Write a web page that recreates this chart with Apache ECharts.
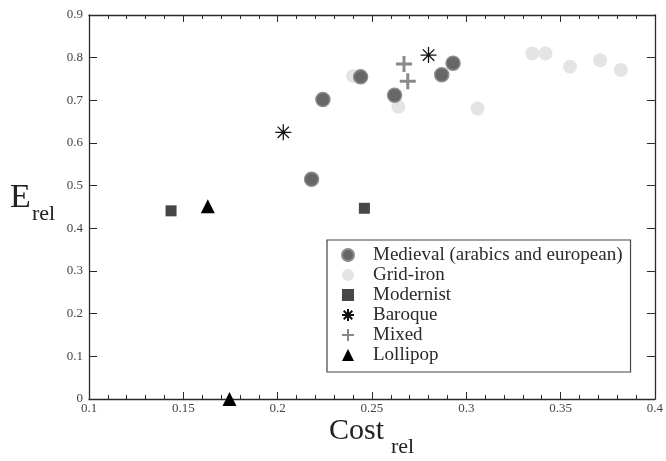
<!DOCTYPE html>
<html>
<head>
<meta charset="utf-8">
<script src="https://cdn.jsdelivr.net/npm/echarts@6/dist/echarts.min.js"></script>
<style>html,body{margin:0;padding:0;background:#fff;}#c{width:666px;height:461px;}</style>
</head>
<body>
<div id="c"></div>
<script>
// Data: [Cost_rel, E_rel]
var seriesNames = ['Medieval (arabics and european)', 'Grid-iron', 'Modernist', 'Baroque', 'Mixed', 'Lollipop'];
var medieval = [[0.224, 0.702], [0.244, 0.755], [0.262, 0.712], [0.287, 0.760], [0.293, 0.787], [0.218, 0.515]];
var gridIron = [[0.240, 0.757], [0.264, 0.685], [0.306, 0.681], [0.335, 0.810], [0.342, 0.810], [0.355, 0.779], [0.371, 0.794], [0.382, 0.771]];
var modernist = [[0.1435, 0.441], [0.246, 0.447]];
var baroque = [[0.203, 0.625], [0.280, 0.806]];
var mixed = [[0.267, 0.785], [0.269, 0.745]];
var lollipop = [[0.163, 0.452], [0.1745, 0.0]];
var xTicks = [0.1, 0.15, 0.2, 0.25, 0.3, 0.35, 0.4];
var yTicks = [0, 0.1, 0.2, 0.3, 0.4, 0.5, 0.6, 0.7, 0.8, 0.9];

var serif = '"Liberation Serif", "DejaVu Serif", serif';
var axisCol = '#2a2a2a';
var asterisk = 'path://M0,-8L0,8M-8,0L8,0M-5.7,-5.7L5.7,5.7M-5.7,5.7L5.7,-5.7';
var plus = 'path://M0,-8L0,8M-8,0L8,0';

var chart = echarts.init(document.getElementById('c'), null, {renderer: 'canvas'});

function baseAxis(extra) {
  var a = {
    axisLine: {show: true, onZero: false, lineStyle: {color: axisCol, width: 1.3}},
    axisTick: {show: true, inside: true, length: 7, lineStyle: {color: axisCol, width: 1}},
    splitLine: {show: false},
    axisLabel: {show: false}
  };
  for (var k in extra) a[k] = extra[k];
  return a;
}

var xMin = xTicks[0], xMax = xTicks[xTicks.length - 1];
var yMin = yTicks[0], yMax = yTicks[yTicks.length - 1];

chart.setOption({
  animation: false,
  backgroundColor: '#fff',
  grid: {left: 89, right: 11, top: 15, bottom: 62, containLabel: false},
  xAxis: [
    baseAxis({type: 'value', position: 'bottom', min: xMin, max: xMax, interval: 0.05,
      minorTick: {show: true, splitNumber: 5, length: 4, lineStyle: {color: axisCol, width: 1}},
      axisLabel: {show: true, color: '#444', fontFamily: serif, fontSize: 13, margin: 3,
        formatter: function (v) { return String(+v.toFixed(2)); }}}),
    baseAxis({type: 'value', position: 'top', min: xMin, max: xMax, interval: 0.05,
      minorTick: {show: true, splitNumber: 5, length: 4, lineStyle: {color: axisCol, width: 1}}})
  ],
  yAxis: [
    baseAxis({type: 'value', position: 'left', min: yMin, max: yMax, interval: 0.1,
      axisTick: {show: true, inside: true, length: 8, lineStyle: {color: axisCol, width: 1}},
      axisLabel: {show: true, color: '#444', fontFamily: serif, fontSize: 13, margin: 6,
        formatter: function (v) { return String(+v.toFixed(1)); }}}),
    baseAxis({type: 'value', position: 'right', min: yMin, max: yMax, interval: 0.1,
      axisTick: {show: true, inside: true, length: 8, lineStyle: {color: axisCol, width: 1}}})
  ],
  legend: {
    orient: 'vertical',
    left: 327, top: 240,
    padding: [5, 8, 7, 14],
    itemGap: 0,
    itemWidth: 12, itemHeight: 12,
    borderColor: '#444', borderWidth: 1.2,
    backgroundColor: '#fff',
    textStyle: {fontFamily: serif, fontSize: 19, color: '#2a2a2a', lineHeight: 20, padding: [0, 0, 0, 14]},
    data: seriesNames
  },
  graphic: [
    {type: 'text', left: 10, top: 181, style: {text: 'E', font: '34px ' + serif, fill: '#222'}},
    {type: 'text', left: 32, top: 203, style: {text: 'rel', font: '22px ' + serif, fill: '#222'}},
    {type: 'text', left: 329, top: 416, style: {text: 'Cost', font: '30px ' + serif, fill: '#222'}},
    {type: 'text', left: 391, top: 436, style: {text: 'rel', font: '22px ' + serif, fill: '#222'}}
  ],
  series: [
    {name: seriesNames[1], type: 'scatter', data: gridIron, symbol: 'circle', symbolSize: 14,
      itemStyle: {color: '#e4e4e4', opacity: 1}, z: 2},
    {name: seriesNames[0], type: 'scatter', data: medieval, symbol: 'circle', symbolSize: 14,
      itemStyle: {color: '#676767', borderColor: '#8c8c8c', borderWidth: 1.5, opacity: 1}, z: 3},
    {name: seriesNames[2], type: 'scatter', data: modernist, symbol: 'rect', symbolSize: 11,
      itemStyle: {color: '#474747', opacity: 1}, z: 3},
    {name: seriesNames[3], type: 'scatter', data: baroque, symbol: asterisk, symbolSize: 16,
      itemStyle: {color: 'rgba(0,0,0,0)', borderColor: '#111', borderWidth: 1.3, opacity: 1}, z: 4},
    {name: seriesNames[4], type: 'scatter', data: mixed, symbol: plus, symbolSize: 16,
      itemStyle: {color: 'rgba(0,0,0,0)', borderColor: '#8a8a8a', borderWidth: 3, opacity: 1}, z: 4},
    {name: seriesNames[5], type: 'scatter', data: lollipop, symbol: 'triangle', symbolSize: 14,
      itemStyle: {color: '#000', opacity: 1}, z: 5, clip: false}
  ]
});
</script>
</body>
</html>
